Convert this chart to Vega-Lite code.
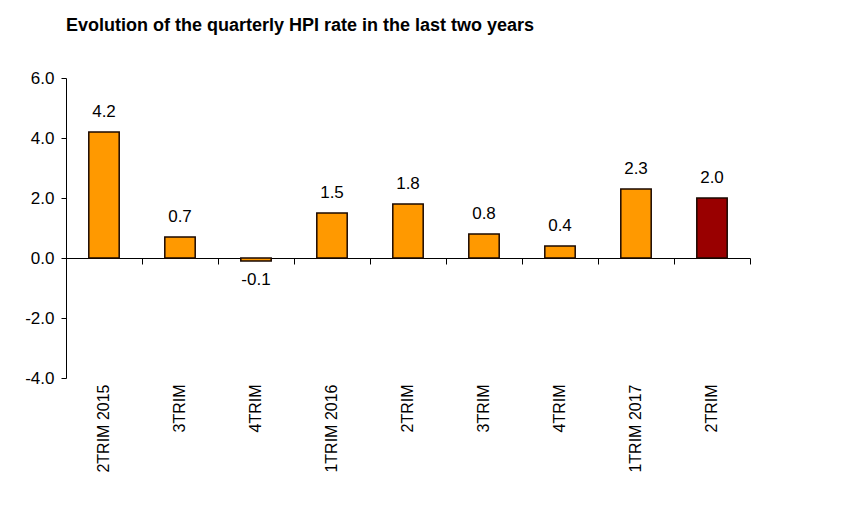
{
  "$schema": "https://vega.github.io/schema/vega-lite/v6.json",
  "width": 684,
  "height": 300,
  "autosize": {"type": "none"},
  "padding": {"left": 66, "top": 78, "right": 100, "bottom": 152},
  "background": "white",
  "title": {
    "text": "Evolution of the quarterly HPI rate in the last two years",
    "anchor": "start",
    "frame": "group",
    "font": "Liberation Sans",
    "fontSize": 18,
    "fontWeight": "bold",
    "color": "#000000",
    "offset": 34
  },
  "config": {
    "view": {"stroke": null},
    "locale": {
      "number": {"decimal": ".", "thousands": ",", "grouping": [3], "currency": ["$", ""], "minus": "-"}
    },
    "axis": {
      "labelFont": "Liberation Sans",
      "labelFontSize": 16,
      "labelColor": "#000000",
      "domainColor": "#000000",
      "tickColor": "#000000",
      "grid": false,
      "title": null
    }
  },
  "data": {
    "values": [
      {"period": "2TRIM 2015", "value": 4.2},
      {"period": "3TRIM 2015", "value": 0.7},
      {"period": "4TRIM 2015", "value": -0.1},
      {"period": "1TRIM 2016", "value": 1.5},
      {"period": "2TRIM 2016", "value": 1.8},
      {"period": "3TRIM 2016", "value": 0.8},
      {"period": "4TRIM 2016", "value": 0.4},
      {"period": "1TRIM 2017", "value": 2.3},
      {"period": "2TRIM 2017", "value": 2.0}
    ]
  },
  "resolve": {"axis": {"x": "independent"}},
  "layer": [
    {
      "mark": {"type": "bar", "stroke": "#1a0800", "strokeWidth": 1.5, "width": {"band": 0.4}},
      "encoding": {
        "x": {
          "field": "period", "type": "nominal", "sort": null,
          "scale": {"paddingInner": 0, "paddingOuter": 0},
          "axis": {
            "orient": "bottom", "domain": false, "ticks": false,
            "labelAngle": 270, "labelPadding": 6,
            "labelExpr": "datum.value == '2TRIM 2015' || indexof(datum.value, '1TRIM') == 0 ? datum.value : split(datum.value, ' ')[0]"
          }
        },
        "y": {
          "field": "value", "type": "quantitative",
          "scale": {"domain": [-4, 6], "nice": false},
          "axis": {"values": [-4, -2, 0, 2, 4, 6], "format": ".1f", "tickSize": 5, "labelPadding": 7, "labelFontSize": 17}
        },
        "color": {
          "condition": {"test": "datum.period == '2TRIM 2017'", "value": "#990000"},
          "value": "#FF9900"
        }
      }
    },
    {
      "transform": [{"filter": "datum.value >= 0"}],
      "mark": {"type": "text", "baseline": "bottom", "dy": -11, "font": "Liberation Sans", "fontSize": 17, "color": "#000000"},
      "encoding": {
        "x": {
          "field": "period", "type": "nominal", "sort": null,
          "axis": {
            "orient": "top", "offset": -180, "tickSize": -6, "tickBand": "extent",
            "labels": false, "domain": true
          }
        },
        "y": {
          "field": "value", "type": "quantitative",
          "axis": {"values": [-4, -2, 0, 2, 4, 6], "format": ".1f", "tickSize": 5, "labelPadding": 7, "labelFontSize": 17}
        },
        "text": {"field": "value", "type": "quantitative", "format": ".1f"}
      }
    },
    {
      "transform": [{"filter": "datum.value < 0"}],
      "mark": {"type": "text", "baseline": "top", "dy": 11, "font": "Liberation Sans", "fontSize": 17, "color": "#000000"},
      "encoding": {
        "x": {"field": "period", "type": "nominal", "sort": null, "axis": null},
        "y": {
          "field": "value", "type": "quantitative",
          "axis": {"values": [-4, -2, 0, 2, 4, 6], "format": ".1f", "tickSize": 5, "labelPadding": 7, "labelFontSize": 17}
        },
        "text": {"field": "value", "type": "quantitative", "format": ".1f"}
      }
    }
  ]
}
